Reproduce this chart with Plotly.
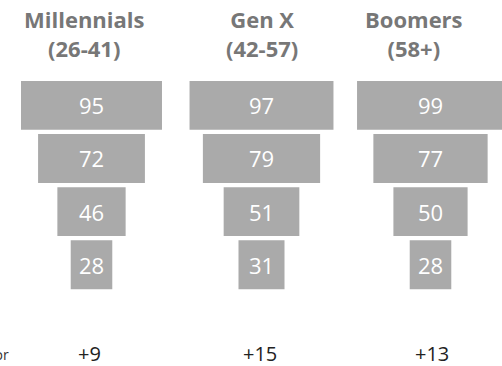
import plotly.graph_objects as go

# Funnel stages (top to bottom) and values per generation
stages = ["Stage 1", "Stage 2", "Stage 3", "Stage 4"]
millennials = [95, 72, 46, 28]
gen_x = [97, 79, 51, 31]
boomers = [99, 77, 50, 28]

group_names = ["Millennials", "Gen X", "Boomers"]
group_ages = ["(26-41)", "(42-57)", "(58+)"]
changes = ["+9", "+15", "+13"]
row_label = "Change for"

W, H = 502, 366
PX_PER_UNIT = 1.484
centers_px = [91.5, 261.5, 430.5]
half_px = 75

fig = go.Figure()
series = [millennials, gen_x, boomers]
for i, vals in enumerate(series):
    c = centers_px[i]
    lo_px = max(c - half_px, 0)
    hi_px = min(c + half_px, W)
    ax = "" if i == 0 else str(i + 1)
    fig.add_trace(go.Funnel(
        y=stages, x=vals,
        xaxis="x" + ax, yaxis="y" + ax,
        marker=dict(color="#aaaaaa", line=dict(width=0)),
        connector=dict(visible=False),
        textinfo="value", textposition="inside", insidetextanchor="middle",
        textfont=dict(family="Open Sans", size=22, color="white"),
        constraintext="none",
        hoverinfo="x+y", showlegend=False,
    ))
    fig.layout["xaxis" + ax] = dict(
        domain=[lo_px / W, hi_px / W],
        range=[(lo_px - c) / PX_PER_UNIT, (hi_px - c) / PX_PER_UNIT],
        visible=False, fixedrange=True,
    )
    fig.layout["yaxis" + ax] = dict(
        domain=[1 - 291.3 / H, 1 - 78.8 / H],
        visible=False, fixedrange=True,
        categoryorder="array", categoryarray=stages, autorange="reversed",
    )

# Column headings: name with the age range beneath
title_x = [84, 262, 414]
title_font = dict(family="Open Sans", size=22, color="#777777")
for tx, name, age in zip(title_x, group_names, group_ages):
    fig.add_annotation(
        x=tx / W, y=1 - 33.5 / H, xref="paper", yref="paper",
        text="<b>%s</b><br><b>%s</b>" % (name, age), showarrow=False,
        borderpad=0, align="center",
        xanchor="center", yanchor="middle", font=title_font,
    )

change_x = [89, 260, 432]
for cx, t in zip(change_x, changes):
    fig.add_annotation(
        x=cx / W, y=1 - 353.5 / H, xref="paper", yref="paper",
        text=t, showarrow=False, xanchor="center", yanchor="middle",
        borderpad=0,
        font=dict(family="Open Sans", size=20, color="#222222"),
    )

fig.add_annotation(
    x=11 / W, y=1 - 354 / H, xref="paper", yref="paper",
    text=row_label, showarrow=False, xanchor="right", yanchor="middle",
    font=dict(family="Open Sans", size=14, color="#333333"),
)

fig.update_layout(
    width=W, height=H,
    margin=dict(l=0, r=0, t=0, b=0),
    paper_bgcolor="white", plot_bgcolor="white",
    funnelgap=0.08,
    font=dict(family="Open Sans"),
)

fig.write_html("out.html")
